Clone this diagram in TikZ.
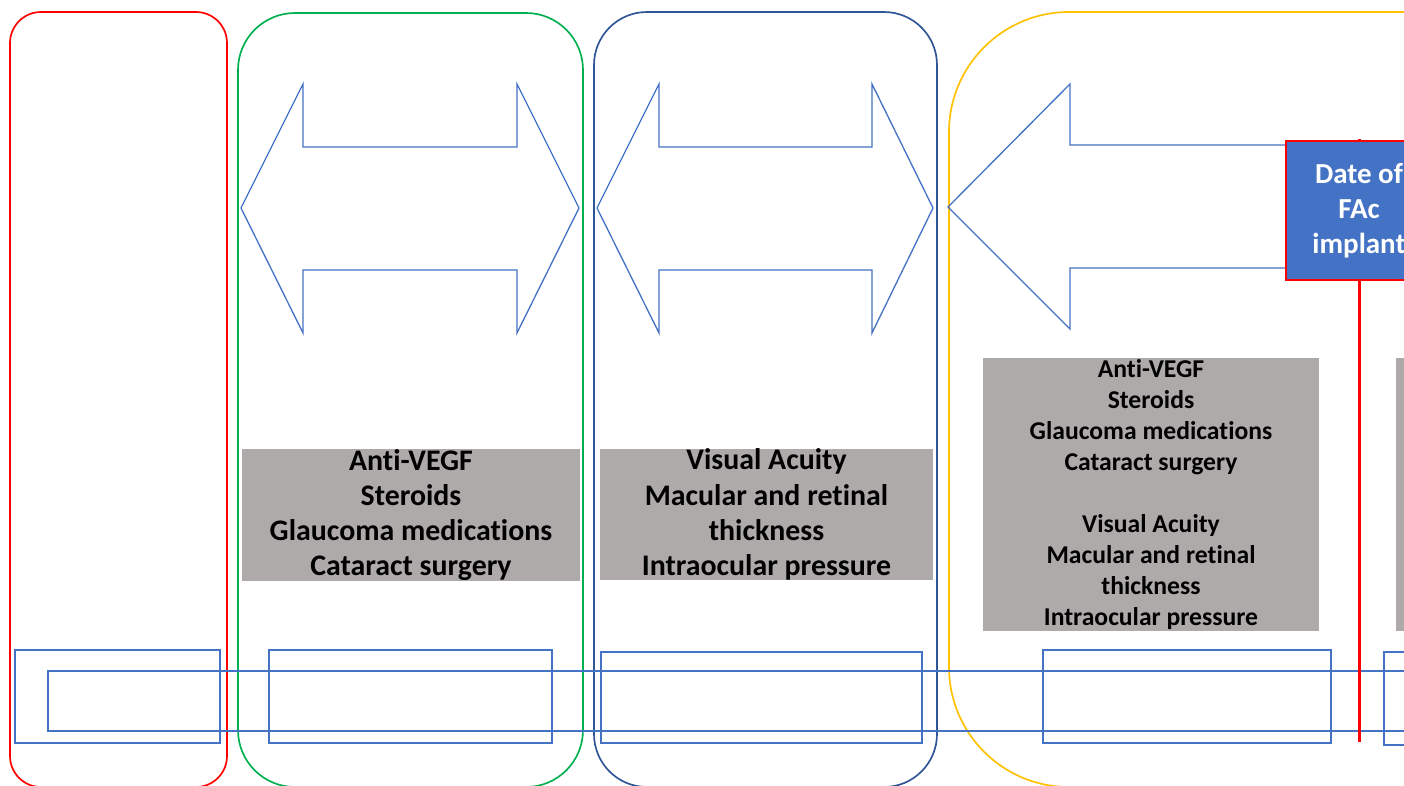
\documentclass[tikz,border=0pt]{standalone}
\usepackage{fontspec}
\setmainfont{Carlito}[Ligatures={NoCommon}]
\usepackage{tikz}
\usetikzlibrary{positioning}
\definecolor{phasered}{RGB}{255,0,0}
\definecolor{phasegreen}{RGB}{0,176,80}
\definecolor{phasenavy}{RGB}{47,85,151}
\definecolor{phaseyellow}{RGB}{255,192,0}
\definecolor{accentblue}{RGB}{68,114,196}
\definecolor{boxgray}{RGB}{174,170,170}
\tikzset{
  phase/.style={line width=0.95pt},
  bigarrow/.style={draw=accentblue, line width=0.75pt, line join=miter},
  graybox/.style={fill=boxgray, align=center, inner sep=0pt,
                  font=\bfseries\fontsize{17}{20}\selectfont},
  smallgray/.style={graybox, font=\bfseries\fontsize{14.6}{17.6}\selectfont},
  frame/.style={draw=accentblue, line width=0.9pt},
  implant/.style={fill=accentblue, draw=phasered, line width=1pt, text=white,
                  align=center, inner sep=0pt,
                  font=\bfseries\fontsize{16.5}{19.9}\selectfont}
}

\begin{document}
\begin{tikzpicture}[x=0.02cm, y=-0.02cm]
  \useasboundingbox (0,0) rectangle (1404,785);
  \clip (0,0) rectangle (1404,785);

  % phase frames
  \draw[phase, draw=phasered, rounded corners=0.62cm] (10,12) rectangle (227,787);
  \draw[phase, draw=phasegreen, rounded corners=1.14cm] (238,13) rectangle (583,787);
  \draw[phase, draw=phasenavy, rounded corners=1.06cm] (594,12) rectangle (937,787);
  \draw[phase, draw=phaseyellow, rounded corners=2.4cm] (949,12) rectangle (1600,787);

  % block arrows
  \draw[bigarrow] (241,208) -- (303,84) -- (303,147) -- (517,147) -- (517,84) -- (579,208)
    -- (517,333) -- (517,270) -- (303,270) -- (303,333) -- cycle;
  \draw[bigarrow] (597,208) -- (659,84) -- (659,147) -- (872,147) -- (872,84) -- (933,208)
    -- (872,333) -- (872,270) -- (659,270) -- (659,333) -- cycle;
  \draw[bigarrow] (1500,145) -- (1070,145) -- (1070,84) -- (948,207) -- (1070,329)
    -- (1070,268) -- (1500,268);

  % gray text boxes
  \node[graybox, minimum width=6.76cm, minimum height=2.66cm] (treat) at (411,515)
    {Anti-VEGF\\Steroids\\Glaucoma medications\\Cataract surgery};
  \node[graybox, minimum width=6.66cm, minimum height=2.62cm] (outcome) at (766.5,514.5)
    {Visual Acuity\\Macular and retinal\\thickness\\Intraocular pressure};
  \node[smallgray, minimum width=6.72cm, minimum height=5.46cm] (both) at (1151,494.5)
    {Anti-VEGF\\Steroids\\Glaucoma medications\\Cataract surgery\\[17.6pt]
     Visual Acuity\\Macular and retinal\\thickness\\Intraocular pressure};
  \node[graybox, anchor=north west, minimum width=2cm, minimum height=5.46cm] (next) at (1396,358) {};

  % timeline boxes
  \draw[frame] (15,650) rectangle (220,743);
  \draw[frame] (269,650) rectangle (552,743);
  \draw[frame] (601,652) rectangle (922,743);
  \draw[frame] (1043,650) rectangle (1331,743);
  \draw[frame] (1384,652) rectangle (1500,745);
  \draw[frame, line width=0.8pt] (48,671) rectangle (1600,731);

  % implant date
  \coordinate (linetop) at (1359,139);
  \coordinate (linebot) at (1359,742);
  \draw[phasered, line width=1.7pt] (linetop) -- (linebot);
  \node[implant, minimum width=2.92cm, minimum height=2.78cm] (fac) at (1359,210.5)
    {Date of\\FAc\\implant};
\end{tikzpicture}
\end{document}
